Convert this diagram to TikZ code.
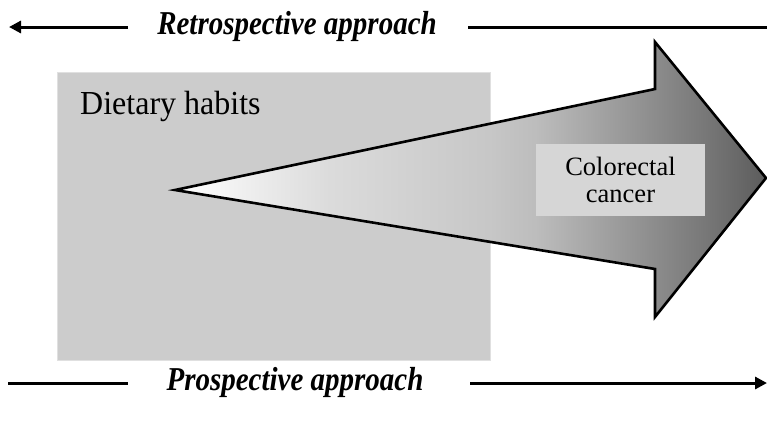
\documentclass[tikz,border=0pt]{standalone}
\usepackage{fontspec}
\setmainfont{Liberation Serif}
\usetikzlibrary{arrows.meta}
\pgfdeclarehorizontalshading{arrowshade}{100bp}{%
  rgb(0bp)=(1,1,1); rgb(25bp)=(1,1,1); rgb(38bp)=(0.86,0.86,0.86);
  rgb(51.6bp)=(0.78,0.78,0.78); rgb(55.5bp)=(0.74,0.74,0.74);
  rgb(69.8bp)=(0.47,0.47,0.47); rgb(75bp)=(0.36,0.36,0.36); rgb(100bp)=(0.36,0.36,0.36)}
\begin{document}
\begin{tikzpicture}[x=1pt,y=-1pt,
  approach/.style={font=\fontsize{29}{32}\selectfont\bfseries\itshape, inner sep=0pt},
  rule/.style={line width=3pt},
  tip/.style={-{Triangle[length=12pt,width=12pt]}}]
\useasboundingbox (0,0) rectangle (767,424);
% diet box
\fill[black!20, draw=black!12, line width=0.8pt] (57,72) rectangle (490,360);
\node[anchor=base west, inner sep=0pt, font=\fontsize{32}{36}\selectfont] (diet) at (80,114) {\scalebox{1}[1.05]{Dietary habits}};
% big arrow
\coordinate (tail) at (175,190);
\shade[shading=arrowshade, draw=black, line width=2.6pt, line join=miter]
  (tail) -- (655,89) -- (655,42) -- (766,178) -- (655,317) -- (655,269) -- cycle;
\node[fill=black!16, minimum width=169pt, minimum height=72pt, inner sep=0pt, align=center,
  font=\fontsize{26.5}{27}\selectfont] (crc) at (620.5,180) {Colorectal\\cancer};
% top
\node[approach] (retro) at (297,26) {\scalebox{1}[1.15]{Retrospective approach}};
\coordinate (tl1) at (128,27);
\coordinate (tl2) at (9,27);
\coordinate (tr1) at (468,27);
\coordinate (tr2) at (767,27);
\draw[rule, tip] (tl1) -- (tl2);
\draw[rule] (tr1) -- (tr2);
% bottom
\node[approach] (pro) at (295,382) {\scalebox{1}[1.15]{Prospective approach}};
\coordinate (bl1) at (8,383);
\coordinate (bl2) at (128,383);
\coordinate (br1) at (470,383);
\coordinate (br2) at (767,383);
\draw[rule] (bl1) -- (bl2);
\draw[rule, tip] (br1) -- (br2);
\end{tikzpicture}
\end{document}
